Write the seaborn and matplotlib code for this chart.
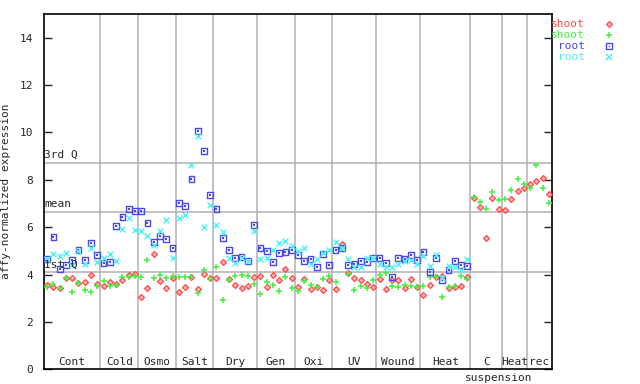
import numpy as np
import pandas as pd
import matplotlib
matplotlib.use("Agg")
import matplotlib.pyplot as plt
import seaborn as sns

# ---- data ----
groups = ["Cont", "Cold", "Osmo", "Salt", "Dry", "Gen", "Oxi", "UV", "Wound", "Heat", "C", "Heat", "rec"]
group_sizes = [9, 6, 6, 6, 7, 6, 6, 7, 7, 8, 5, 4, 4]

shoot_red = [3.55, 3.47, 3.43, 3.87, 3.87, 3.64, 3.68, 3.97, 3.59,
             3.51, 3.68, 3.59, 3.76, 3.97, 4.02,
             3.04, 3.42, 4.86, 3.72, 3.42, 3.85,
             3.26, 3.47, 3.89, 3.38, 4.02, 3.85,
             3.85, 4.52, 3.81, 3.55, 3.42, 3.51, 3.89,
             3.93, 3.47, 3.97, 3.76, 4.23, 3.85,
             3.47, 3.80, 3.38, 3.47, 3.34, 3.76,
             3.38, 5.28, 4.06, 3.85, 3.76, 3.59, 3.47,
             3.81, 3.38, 3.79, 3.76, 3.42, 3.81, 3.47,
             3.13, 3.55, 3.89, 3.93, 3.42, 3.47, 3.51, 3.89,
             7.23, 6.85, 5.54, 7.23, 6.76,
             6.72, 7.19, 7.53, 7.65,
             7.82, 7.95, 8.07, 7.40]
shoot_green = [3.47, 3.59, 3.43, 3.85, 3.28, 3.64, 3.34, 3.26, 3.51,
               3.72, 3.51, 3.57, 3.88, 3.88, 3.93,
               3.89, 4.61, 3.85, 3.97, 3.85, 3.93,
               3.89, 3.89, 3.89, 3.21, 4.19, 3.81,
               4.31, 2.92, 3.76, 3.93, 4.00, 3.92, 3.60,
               3.17, 3.68, 3.55, 3.30, 3.89, 3.42,
               3.30, 3.72, 3.55, 3.47, 3.80, 3.93,
               3.68, 5.12, 4.04, 3.34, 3.53, 3.42, 3.76,
               3.97, 4.06, 3.51, 3.47, 3.55, 3.51, 3.47,
               3.51, 3.89, 3.91, 3.04, 3.47, 3.51, 3.93, 3.81,
               7.27, 7.06, 6.76, 7.48, 7.14,
               7.19, 7.57, 8.03, 7.82,
               7.65, 8.62, 7.65, 7.02]
root_blue = [4.65, 5.58, 4.23, 4.40, 4.61, 5.04, 4.61, 5.33, 4.82,
             4.48, 4.52, 6.05, 6.43, 6.77, 6.69,
             6.69, 6.17, 5.37, 5.62, 5.50, 5.12,
             7.02, 6.89, 8.03, 10.06, 9.22, 7.36,
             6.77, 5.54, 5.03, 4.69, 4.74, 4.57, 6.09,
             5.12, 4.99, 4.52, 4.90, 4.95, 5.03,
             4.82, 4.57, 4.65, 4.31, 4.88, 4.40,
             5.03, 5.12, 4.40, 4.44, 4.57, 4.52, 4.69,
             4.69, 4.48, 3.89, 4.69, 4.65, 4.82, 4.61,
             4.95, 4.10, 4.69, 3.76, 4.19, 4.57, 4.40, 4.36]
root_cyan = [4.65, 4.86, 4.78, 4.90, 4.40, 5.00, 4.44, 5.12, 4.52,
             4.69, 4.86, 4.57, 5.92, 6.38, 5.88,
             5.84, 5.62, 5.24, 5.84, 6.30, 4.69,
             6.38, 6.51, 8.63, 9.85, 6.00, 6.93,
             6.09, 5.79, 4.69, 4.48, 4.69, 4.57, 5.84,
             4.65, 4.69, 5.03, 5.33, 5.41, 5.20,
             4.99, 5.12, 4.44, 4.65, 4.90, 5.03,
             5.37, 5.14, 4.65, 4.31, 4.31, 4.69, 4.69,
             4.44, 4.31, 4.31, 4.44, 4.57, 4.63, 4.44,
             4.78, 4.36, 4.82, 3.85, 4.36, 4.31, 4.19, 4.65]

q1, mean_v, q3 = 4.10, 6.64, 8.71
ytick_vals = [0, 2, 4, 6, 8, 10, 12, 14]

# ---- build table ----
n_all = len(shoot_red)
idx_all = np.arange(1, n_all + 1)
idx_root = np.arange(1, len(root_blue) + 1)
frames = [
    pd.DataFrame({"x": idx_all, "y": shoot_red, "s": "shoot_r"}),
    pd.DataFrame({"x": idx_all, "y": shoot_green, "s": "shoot_g"}),
    pd.DataFrame({"x": idx_root, "y": root_blue, "s": "root_b"}),
    pd.DataFrame({"x": idx_root, "y": root_cyan, "s": "root_c"}),
]

RED, GREEN, BLUE, CYAN = "#ff4848", "#44f044", "#4848f0", "#48f4f4"
GRID = "#b0b0b0"

sns.set_theme(style="white")
plt.rcParams["font.family"] = ["DejaVu Sans Mono"]

fig = plt.figure(figsize=(6.4, 3.84), dpi=100)
ax = fig.add_axes([44 / 640, 1 - 369.3 / 384, (552 - 44) / 640, (369.3 - 14) / 384])
ax.set_xlim(0.5, n_all + 0.5)
ax.set_ylim(0, 15)

# separators
bounds = np.cumsum(group_sizes)[:-1] + 0.5
for b in bounds:
    ax.axvline(b, color=GRID, lw=1.1, zorder=1)
for v in (q1, mean_v, q3):
    ax.axhline(v, color=GRID, lw=1.1, zorder=1)

sns.scatterplot(data=frames[0], x="x", y="y", marker="D", s=9, color="#ffb8b8",
                edgecolor=RED, linewidth=0.9, ax=ax, zorder=3, legend=False)
sns.scatterplot(data=frames[1], x="x", y="y", marker="+", s=24, color=GREEN,
                linewidth=1.1, ax=ax, zorder=4, legend=False)
sns.scatterplot(data=frames[2], x="x", y="y", marker="s", s=17, facecolor="none",
                edgecolor=BLUE, linewidth=1.0, ax=ax, zorder=5, legend=False)
sns.scatterplot(data=frames[2], x="x", y="y", marker="s", s=1.2, color=BLUE,
                linewidth=0, ax=ax, zorder=5, legend=False)
sns.scatterplot(data=frames[3], x="x", y="y", marker="x", s=17, color=CYAN,
                linewidth=1.0, ax=ax, zorder=6, legend=False)

# quartile labels
fs = 8
ax.text(0.55, q3 + 0.12, "3rd Q", fontsize=fs, ha="left", va="bottom", zorder=7)
ax.text(0.55, mean_v + 0.12, "mean", fontsize=fs, ha="left", va="bottom", zorder=7)
ax.text(0.55, q1 + 0.12, "1st Q", fontsize=fs, ha="left", va="bottom", zorder=7)

# group labels
starts = np.concatenate([[0.5], bounds])
ends = np.concatenate([bounds, [n_all + 0.5]])
for g, s0, e0 in zip(groups, starts, ends):
    ax.text((s0 + e0) / 2, 0.1, g, fontsize=fs, ha="center", va="bottom", zorder=7)
ax.text((starts[10] + ends[11]) / 2, -0.15, "suspension", fontsize=fs,
        ha="center", va="top", zorder=7)

# axes styling
ax.set_xticks([])
ax.set_yticks(ytick_vals)
ax.set_yticklabels([str(v) for v in ytick_vals], fontsize=fs)
ax.tick_params(axis="y", direction="in", length=6, width=1, left=True, right=True,
               labelleft=True, pad=8)
ax.set_xlabel("")
ax.set_ylabel("affy-normalized expression", fontsize=fs, labelpad=6)
for sp in ax.spines.values():
    sp.set_visible(True)
    sp.set_color("black")
    sp.set_linewidth(1.2)

# legend (outside, right)
leg_items = [("shoot", RED, "D"), ("shoot", GREEN, "+"), ("root", BLUE, "s"), ("root", CYAN, "x")]
for k, (lab, col, mk) in enumerate(leg_items):
    yy = 1 - (23.7 + k * 11) / 384
    fig.text(585 / 640, yy, lab, color=col, fontsize=fs, ha="right", va="center")
    if mk == "D":
        fig.lines.append(plt.Line2D([609 / 640], [yy], marker="D", ms=3.0, mfc="#ffb8b8",
                                    mec=col, mew=0.9, ls="none", transform=fig.transFigure))
    elif mk == "s":
        fig.lines.append(plt.Line2D([609 / 640], [yy], marker="s", ms=4.0, mfc="none",
                                    mec=col, mew=1.0, ls="none", transform=fig.transFigure))
        fig.lines.append(plt.Line2D([609 / 640], [yy], marker="s", ms=1, mfc=col,
                                    mec=col, mew=0, ls="none", transform=fig.transFigure))
    else:
        fig.lines.append(plt.Line2D([609 / 640], [yy], marker=mk, ms=4.5, color=col,
                                    mew=1.1, ls="none", transform=fig.transFigure))

fig.savefig("out.png", dpi=100)
